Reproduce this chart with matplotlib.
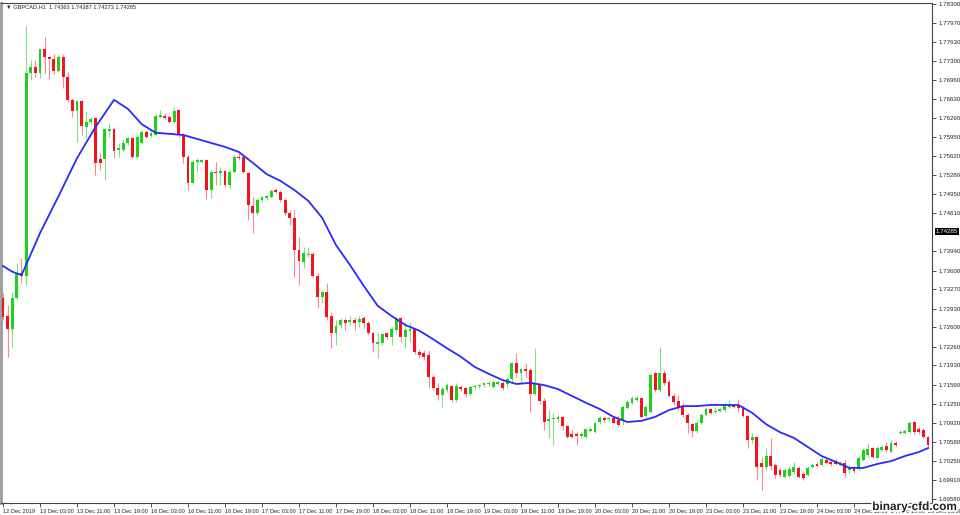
import matplotlib.pyplot as plt
import matplotlib.patheffects as pe
import numpy as np

plt.rcParams['font.family'] = ['Liberation Sans', 'DejaVu Sans']

# GBPCAD H1 candles
opens = [1.7312, 1.7280, 1.7257, 1.7312, 1.7356, 1.7350, 1.7708, 1.7719, 1.7708, 1.7751,
         1.7737, 1.7733, 1.7712, 1.7737, 1.7701, 1.7661, 1.7641, 1.7659, 1.7613, 1.7622,
         1.7629, 1.7557, 1.7557, 1.7606, 1.7610, 1.7573, 1.7573, 1.7585, 1.7594, 1.7560,
         1.7585, 1.7604, 1.7597, 1.7599, 1.7631, 1.7633, 1.7631, 1.7622, 1.7643, 1.7599,
         1.7560, 1.7514, 1.7551, 1.7551, 1.7555, 1.7502, 1.7534, 1.7532, 1.7536, 1.7511,
         1.7534, 1.7560, 1.7560, 1.7532, 1.7474, 1.7462, 1.7484, 1.7488, 1.7490, 1.7502,
         1.7499, 1.7484, 1.7462, 1.7453, 1.7396, 1.7375, 1.7388, 1.7389, 1.7350, 1.7314,
         1.7322, 1.7280, 1.7250, 1.7264, 1.7273, 1.7270, 1.7273, 1.7270, 1.7276, 1.7268,
         1.7250, 1.7230, 1.7232, 1.7250, 1.7243, 1.7255, 1.7276, 1.7243, 1.7254, 1.7257,
         1.7216, 1.7215, 1.7211, 1.7172, 1.7153, 1.7141, 1.7149, 1.7157, 1.7132, 1.7155,
         1.7153, 1.7142, 1.7155, 1.7157, 1.7158, 1.7160, 1.7155, 1.7160, 1.7162, 1.7160,
         1.7169, 1.7197, 1.7179, 1.7186, 1.7185, 1.7142, 1.7160, 1.7130, 1.7095, 1.7098,
         1.7098, 1.7102, 1.7086, 1.7072, 1.7072, 1.7068, 1.7066, 1.7077, 1.7075, 1.7093,
         1.7100, 1.7098, 1.7100, 1.7097, 1.7097, 1.7118, 1.7127, 1.7132, 1.7135, 1.7104,
         1.7111, 1.7179, 1.7149, 1.7179, 1.7164, 1.7139, 1.7130, 1.7121, 1.7105, 1.7089,
         1.7077, 1.7091, 1.7105, 1.7116, 1.7111, 1.7112, 1.7114, 1.7119, 1.7123, 1.7123,
         1.7119, 1.7104, 1.7061, 1.7066, 1.7021, 1.7014, 1.7033, 1.7017, 1.7008, 1.6996,
         1.6998, 1.7005, 1.7012, 1.7001, 1.7000, 1.7014, 1.7019, 1.7017, 1.7026, 1.7023,
         1.7024, 1.7017, 1.7021, 1.7008, 1.7012, 1.7012, 1.7026, 1.7035, 1.7047, 1.7030,
         1.7044, 1.7051, 1.7040, 1.7056, 1.7074, 1.7074, 1.7075, 1.7093, 1.7081, 1.7079,
         1.7066]
highs = [1.7320, 1.7299, 1.7322, 1.7373, 1.7382, 1.7791, 1.7731, 1.7731, 1.7752, 1.7772,
         1.7738, 1.7742, 1.7740, 1.7742, 1.7710, 1.7664, 1.7661, 1.7661, 1.7640, 1.7631,
         1.7631, 1.7567, 1.7611, 1.7620, 1.7613, 1.7585, 1.7590, 1.7596, 1.7596, 1.7599,
         1.7608, 1.7608, 1.7608, 1.7636, 1.7643, 1.7638, 1.7634, 1.7648, 1.7645, 1.7603,
         1.7564, 1.7555, 1.7558, 1.7557, 1.7557, 1.7537, 1.7551, 1.7543, 1.7537, 1.7537,
         1.7564, 1.7567, 1.7562, 1.7534, 1.7490, 1.7488, 1.7491, 1.7495, 1.7504, 1.7506,
         1.7502, 1.7488, 1.7467, 1.7467, 1.7419, 1.7402, 1.7402, 1.7393, 1.7356, 1.7326,
         1.7338, 1.7287, 1.7273, 1.7276, 1.7276, 1.7280, 1.7278, 1.7280, 1.7280, 1.7271,
         1.7252, 1.7250, 1.7250, 1.7252, 1.7261, 1.7278, 1.7278, 1.7270, 1.7270, 1.7259,
         1.7222, 1.7220, 1.7220, 1.7176, 1.7162, 1.7155, 1.7162, 1.7158, 1.7162, 1.7158,
         1.7155, 1.7158, 1.7158, 1.7160, 1.7164, 1.7165, 1.7167, 1.7167, 1.7165, 1.7172,
         1.7199, 1.7215, 1.7188, 1.7197, 1.7188, 1.7223, 1.7162, 1.7135, 1.7114, 1.7109,
         1.7105, 1.7104, 1.7088, 1.7079, 1.7075, 1.7075, 1.7082, 1.7084, 1.7093, 1.7104,
         1.7102, 1.7102, 1.7102, 1.7105, 1.7123, 1.7132, 1.7139, 1.7139, 1.7137, 1.7123,
         1.7179, 1.7183, 1.7225, 1.7185, 1.7167, 1.7144, 1.7141, 1.7127, 1.7109, 1.7091,
         1.7097, 1.7109, 1.7119, 1.7118, 1.7119, 1.7118, 1.7127, 1.7132, 1.7125, 1.7134,
         1.7121, 1.7105, 1.7074, 1.7068, 1.7031, 1.7047, 1.7065, 1.7021, 1.7012, 1.7012,
         1.7015, 1.7023, 1.7015, 1.7005, 1.7015, 1.7021, 1.7023, 1.7031, 1.7030, 1.7026,
         1.7028, 1.7024, 1.7026, 1.7017, 1.7015, 1.7033, 1.7047, 1.7056, 1.7049, 1.7051,
         1.7053, 1.7058, 1.7061, 1.7060, 1.7079, 1.7081, 1.7095, 1.7095, 1.7084, 1.7082,
         1.7068]
lows = [1.7273, 1.7208, 1.7225, 1.7308, 1.7338, 1.7335, 1.7696, 1.7701, 1.7700, 1.7708,
        1.7698, 1.7707, 1.7710, 1.7682, 1.7657, 1.7631, 1.7587, 1.7599, 1.7594, 1.7618,
        1.7529, 1.7537, 1.7520, 1.7596, 1.7558, 1.7560, 1.7569, 1.7581, 1.7558, 1.7558,
        1.7583, 1.7594, 1.7596, 1.7597, 1.7629, 1.7625, 1.7620, 1.7620, 1.7596, 1.7550,
        1.7502, 1.7513, 1.7534, 1.7550, 1.7486, 1.7488, 1.7511, 1.7511, 1.7507, 1.7506,
        1.7532, 1.7555, 1.7532, 1.7449, 1.7426, 1.7458, 1.7481, 1.7484, 1.7488, 1.7497,
        1.7481, 1.7458, 1.7440, 1.7349, 1.7335, 1.7365, 1.7384, 1.7349, 1.7294, 1.7303,
        1.7273, 1.7223, 1.7229, 1.7259, 1.7255, 1.7264, 1.7255, 1.7261, 1.7259, 1.7246,
        1.7216, 1.7206, 1.7229, 1.7239, 1.7229, 1.7250, 1.7234, 1.7223, 1.7234, 1.7213,
        1.7206, 1.7202, 1.7153, 1.7149, 1.7132, 1.7119, 1.7146, 1.7128, 1.7128, 1.7148,
        1.7137, 1.7141, 1.7149, 1.7153, 1.7155, 1.7157, 1.7153, 1.7158, 1.7149, 1.7153,
        1.7162, 1.7172, 1.7162, 1.7172, 1.7111, 1.7141, 1.7125, 1.7079, 1.7065, 1.7053,
        1.7093, 1.7079, 1.7065, 1.7065, 1.7053, 1.7065, 1.7065, 1.7075, 1.7074, 1.7089,
        1.7093, 1.7095, 1.7089, 1.7084, 1.7088, 1.7116, 1.7125, 1.7130, 1.7100, 1.7102,
        1.7109, 1.7146, 1.7146, 1.7158, 1.7137, 1.7123, 1.7114, 1.7102, 1.7074, 1.7066,
        1.7074, 1.7089, 1.7104, 1.7107, 1.7109, 1.7111, 1.7111, 1.7118, 1.7118, 1.7111,
        1.7102, 1.7047, 1.7056, 1.6991, 1.6973, 1.7008, 1.7008, 1.6994, 1.6996, 1.6994,
        1.6996, 1.7001, 1.6994, 1.6991, 1.6998, 1.7012, 1.7014, 1.7015, 1.7019, 1.7015,
        1.7017, 1.7015, 1.6996, 1.7003, 1.7003, 1.7008, 1.7024, 1.7031, 1.7030, 1.7028,
        1.7042, 1.7040, 1.7038, 1.7049, 1.7072, 1.7072, 1.7074, 1.7072, 1.7072, 1.7065,
        1.7047]
closes = [1.7278, 1.7257, 1.7312, 1.7356, 1.7350, 1.7708, 1.7719, 1.7708, 1.7751, 1.7737,
          1.7733, 1.7712, 1.7737, 1.7701, 1.7661, 1.7641, 1.7659, 1.7615, 1.7622, 1.7627,
          1.7550, 1.7550, 1.7610, 1.7610, 1.7571, 1.7576, 1.7585, 1.7594, 1.7560, 1.7596,
          1.7604, 1.7596, 1.7603, 1.7633, 1.7634, 1.7629, 1.7622, 1.7641, 1.7599, 1.7560,
          1.7514, 1.7551, 1.7555, 1.7555, 1.7502, 1.7534, 1.7532, 1.7536, 1.7511, 1.7534,
          1.7560, 1.7558, 1.7534, 1.7476, 1.7462, 1.7484, 1.7490, 1.7491, 1.7500, 1.7499,
          1.7484, 1.7462, 1.7453, 1.7396, 1.7377, 1.7391, 1.7389, 1.7350, 1.7314, 1.7322,
          1.7278, 1.7250, 1.7262, 1.7273, 1.7268, 1.7273, 1.7268, 1.7275, 1.7268, 1.7250,
          1.7232, 1.7234, 1.7248, 1.7243, 1.7257, 1.7276, 1.7243, 1.7255, 1.7257, 1.7216,
          1.7211, 1.7208, 1.7172, 1.7153, 1.7141, 1.7151, 1.7158, 1.7132, 1.7157, 1.7151,
          1.7142, 1.7155, 1.7157, 1.7158, 1.7162, 1.7162, 1.7164, 1.7164, 1.7153, 1.7169,
          1.7197, 1.7179, 1.7186, 1.7183, 1.7142, 1.7160, 1.7130, 1.7093, 1.7098, 1.7100,
          1.7102, 1.7086, 1.7066, 1.7066, 1.7068, 1.7072, 1.7081, 1.7081, 1.7091, 1.7100,
          1.7097, 1.7100, 1.7091, 1.7088, 1.7119, 1.7128, 1.7135, 1.7135, 1.7102, 1.7119,
          1.7176, 1.7149, 1.7179, 1.7162, 1.7139, 1.7128, 1.7118, 1.7105, 1.7091, 1.7077,
          1.7091, 1.7105, 1.7116, 1.7109, 1.7112, 1.7116, 1.7121, 1.7123, 1.7119, 1.7118,
          1.7104, 1.7061, 1.7066, 1.7014, 1.7014, 1.7033, 1.7015, 1.7000, 1.7000, 1.7008,
          1.7010, 1.7014, 1.6996, 1.6994, 1.7012, 1.7017, 1.7015, 1.7028, 1.7021, 1.7019,
          1.7019, 1.7021, 1.7003, 1.7014, 1.7007, 1.7030, 1.7044, 1.7045, 1.7031, 1.7047,
          1.7049, 1.7044, 1.7056, 1.7053, 1.7075, 1.7077, 1.7091, 1.7075, 1.7075, 1.7066,
          1.7053]

# moving average line
ma_bars = [0, 2, 4, 5, 8, 12, 16, 20, 24, 27, 30, 33, 36, 39, 42, 45, 48, 51, 54, 57,
           60, 63, 66, 69, 72, 75, 78, 81, 84, 87, 90, 93, 96, 99, 102, 105, 108, 111,
           114, 117, 120, 123, 126, 129, 132, 135, 138, 141, 144, 147, 150, 153, 156,
           159, 162, 165, 168, 171, 174, 177, 180, 183, 186, 189, 192, 195, 198, 200]
ma_vals = [1.7368, 1.7358, 1.7352, 1.7370, 1.7426, 1.7491, 1.7558, 1.7613, 1.7661, 1.7645,
           1.7618, 1.7603, 1.7601, 1.7599, 1.7592, 1.7585, 1.7578, 1.7569, 1.7550, 1.7530,
           1.7518, 1.7502, 1.7483, 1.7453, 1.7405, 1.7370, 1.7333, 1.7298, 1.7280, 1.7264,
           1.7254, 1.7239, 1.7223, 1.7208, 1.7190, 1.7178, 1.7167, 1.7160, 1.7162, 1.7158,
           1.7151, 1.7139, 1.7127, 1.7116, 1.7102, 1.7093, 1.7095, 1.7102, 1.7114, 1.7121,
           1.7121, 1.7123, 1.7123, 1.7123, 1.7109, 1.7089, 1.7075, 1.7065, 1.7049, 1.7033,
           1.7023, 1.7012, 1.7012, 1.7019, 1.7024, 1.7033, 1.7040, 1.7047]

price_ticks = [1.78300, 1.77970, 1.77630, 1.77300, 1.76960, 1.76630, 1.76290, 1.75950,
               1.75620, 1.75280, 1.74950, 1.74610, 1.73940, 1.73600, 1.73270, 1.72930,
               1.72600, 1.72260, 1.71930, 1.71590, 1.71250, 1.70920, 1.70580, 1.70250,
               1.69910, 1.69580]
last_price = 1.74285
time_labels = ["12 Dec 2019", "13 Dec 03:00", "13 Dec 11:00", "13 Dec 19:00",
               "16 Dec 03:00", "16 Dec 11:00", "16 Dec 19:00", "17 Dec 03:00",
               "17 Dec 11:00", "17 Dec 19:00", "18 Dec 03:00", "18 Dec 11:00",
               "18 Dec 19:00", "19 Dec 03:00", "19 Dec 11:00", "19 Dec 19:00",
               "20 Dec 03:00", "20 Dec 11:00", "20 Dec 19:00", "23 Dec 03:00",
               "23 Dec 11:00", "23 Dec 19:00", "24 Dec 03:00", "24 Dec 11:00",
               "24 Dec 19:00", "26 Dec 03:00"]

o = np.array(opens)
h = np.array(highs)
l = np.array(lows)
c = np.array(closes)
x = np.arange(len(c))
up = c >= o
dn = ~up

fig = plt.figure(figsize=(9.6, 5.15), dpi=100)
ax = fig.add_axes([1/960, 12/515, 931/960, 500/515])

green = "#1fd01f"
red = "#f5121c"
ax.vlines(x[up], l[up], h[up], color="#7fe07f", lw=0.8, zorder=2)
ax.vlines(x[dn], l[dn], h[dn], color="#f58a92", lw=0.8, zorder=2)
body = np.maximum(np.abs(c - o), 0.00007)
bot = np.minimum(o, c)
ax.bar(x[up], body[up], bottom=bot[up], width=0.62, color=green, lw=0, zorder=3)
ax.bar(x[dn], body[dn], bottom=bot[dn], width=0.62, color=red, lw=0, zorder=3)

ax.plot(ma_bars, ma_vals, color="#2a2aff", lw=1.3, zorder=4)

ax.set_xlim(-0.43, 200.86)
ax.set_ylim(1.69502, 1.78317)

ax.yaxis.tick_right()
ax.set_yticks(price_ticks)
ax.set_yticklabels([f"{v:.5f}" for v in price_ticks])
ax.set_xticks(range(0, 8 * len(time_labels), 8))
ax.set_xticklabels(time_labels)
for t in ax.get_xticklabels():
    t.set_ha("left")
    t.set_fontsize(4.1)
for t in ax.get_yticklabels():
    t.set_fontsize(4.4)
ax.tick_params(axis="both", length=3, width=0.6, color="#333333",
               labelcolor="#222222", pad=1.5)

for s in ax.spines.values():
    s.set_color("#444444")
    s.set_linewidth(0.8)
ax.spines["left"].set_color("#9a9a9a")
ax.spines["left"].set_linewidth(2)

ax.text(1.004, last_price, f"{last_price:.5f}", transform=ax.get_yaxis_transform(),
        fontsize=4.4, color="white", va="center", ha="left",
        bbox=dict(facecolor="black", edgecolor="none", pad=0.8), clip_on=False)

fig.text(6/960, 1 - 7/515, "▼ GBPCAD,H1  1.74363 1.74387 1.74273 1.74285",
         fontsize=4.1, va="center", color="#222222")

fig.text(957/960, 1 - 507/515, "binary-cfd.com", ha="right", va="center",
         fontsize=8.5, weight="bold", color="#222222",
         path_effects=[pe.withStroke(linewidth=2.5, foreground="white")])

fig.savefig("out.png", dpi=100)
